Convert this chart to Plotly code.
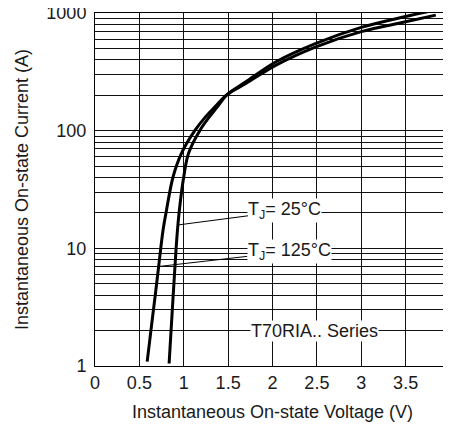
import math
import plotly.graph_objects as go

# T_J = 25°C curve (voltage V, current A)
v25 = [0.835, 0.857, 0.889, 0.925, 0.951, 1.000, 1.054, 1.18, 1.289, 1.381, 1.49, 1.70, 2.04, 2.49, 3.0, 3.5, 3.745]
i25 = [1.05, 2.0, 5.0, 13.0, 21.2, 40.6, 64.2, 100, 131, 160, 203, 260, 385, 552, 754, 933, 1025]

# T_J = 125°C curve
v125 = [0.588, 0.630, 0.679, 0.717, 0.767, 0.806, 0.880, 0.974, 1.124, 1.245, 1.354, 1.49, 1.70, 2.04, 2.49, 3.0, 3.5, 3.84]
i125 = [1.09, 2.0, 4.0, 6.98, 14.3, 21.2, 40.6, 64.2, 100, 131, 160, 203, 252, 361, 516, 695, 842, 960]

x_ticks = [0, 0.5, 1, 1.5, 2, 2.5, 3, 3.5, 4]
x_labels = ["0", "0.5", "1", "1.5", "2", "2.5", "3", "3.5", "4"]
y_ticks = [m * d for d in (1, 10, 100) for m in range(1, 10)] + [1000]
y_labels = [str(v) if v in (1, 10, 100, 1000) else "" for v in y_ticks]

FONT = "Liberation Sans, Arial, sans-serif"
TXT = "#1a1a1a"
FS = 18

fig = go.Figure()
fig.add_trace(go.Scatter(x=v25, y=i25, mode="lines",
                         line=dict(color="black", width=3, shape="spline", smoothing=1.0), name="25"))
fig.add_trace(go.Scatter(x=v125, y=i125, mode="lines",
                         line=dict(color="black", width=3, shape="spline", smoothing=1.0), name="125"))

ann_font = dict(family=FONT, size=FS, color=TXT)
fig.add_annotation(x=0.935, y=math.log10(15.8), text="T<sub>J</sub>= 25°C", showarrow=True,
                   arrowhead=0, arrowwidth=1, arrowcolor="black", ax=107, ay=-14,
                   bgcolor="white", font=ann_font, borderpad=0)
fig.add_annotation(x=0.712, y=math.log10(7.0), text="T<sub>J</sub>= 125°C", showarrow=True,
                   arrowhead=0, arrowwidth=1, arrowcolor="black", ax=131, ay=-15,
                   bgcolor="white", font=ann_font, borderpad=0)
fig.add_annotation(x=2.47, y=math.log10(2), text="T70RIA.. Series", showarrow=False,
                   bgcolor="white", font=ann_font, borderpad=0)

# page has an 8px body margin; figure sized to fit the window
fig.update_layout(
    width=443, height=426,
    margin=dict(l=87, r=1, t=5, b=68),
    paper_bgcolor="white", plot_bgcolor="white",
    showlegend=False,
    font=dict(family=FONT, size=FS, color=TXT),
)
fig.update_xaxes(
    range=[0, 4], tickvals=x_ticks, ticktext=x_labels,
    showgrid=True, gridcolor="#111", gridwidth=1,
    showline=True, linecolor="black", linewidth=1, mirror=True,
    zeroline=False, ticks="", ticklabelstandoff=0, automargin=False,
    ticklabeloverflow="allow",
    title=dict(text="Instantaneous On-state Voltage (V)", standoff=13,
               font=dict(family=FONT, size=FS, color=TXT)),
)
fig.update_yaxes(
    type="log", range=[0, 3], tickvals=y_ticks, ticktext=y_labels,
    showgrid=True, gridcolor="#111", gridwidth=1,
    showline=True, linecolor="black", linewidth=1, mirror=True,
    zeroline=False, ticks="", ticklabelstandoff=4, automargin=False,
    ticklabeloverflow="allow",
    title=dict(text="Instantaneous On-state Current (A)", standoff=13,
               font=dict(family=FONT, size=FS, color=TXT)),
)

fig.write_html("out.html")
